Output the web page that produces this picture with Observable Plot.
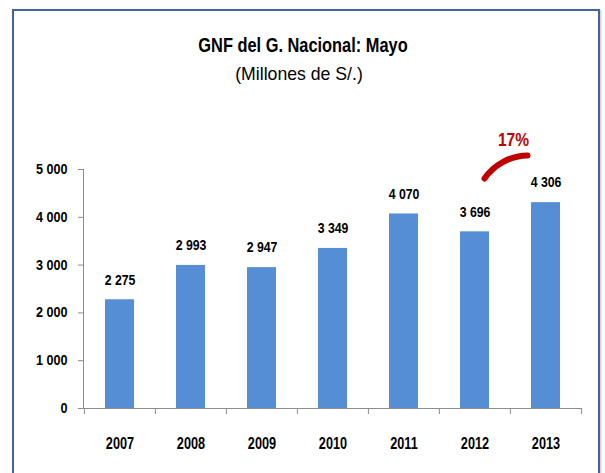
<!DOCTYPE html>
<html>
<head>
<meta charset="utf-8">
<script src="https://cdn.jsdelivr.net/npm/d3@7"></script>
<script src="https://cdn.jsdelivr.net/npm/@observablehq/plot@0.6"></script>
<style>
  html, body { margin: 0; padding: 0; background: #fff; }
  #wrap { position: relative; width: 605px; height: 473px; overflow: hidden;
          font-family: "Liberation Sans", Arial, sans-serif; }
  #frame { position: absolute; left: 12px; top: 9px; width: 588px; height: 480px;
           box-sizing: border-box; border: 2px solid #41659A;
           box-shadow: 1px 1px 2px rgba(0,0,0,0.25); }
  #title { position: absolute; left: 0; top: 0; width: 605px; height: 120px; }
  #t1 { position: absolute; left: 3px; width: 600px; top: 32.5px; text-align: center;
        font-weight: bold; font-size: 21px; line-height: normal; color: #000; transform: scaleX(0.78); }
  #t2 { position: absolute; left: 0; width: 598px; top: 63px; text-align: center;
        font-size: 18.6px; line-height: normal; color: #000; transform: scaleX(0.95); }
  #chart { position: absolute; left: 0; top: 120px; }
</style>
</head>
<body>
<div id="wrap">
  <div id="frame"></div>
  <div id="title"><div id="t1">GNF del G. Nacional: Mayo</div><div id="t2">(Millones de S/.)</div></div>
  <div id="chart"></div>
</div>
<script>
const years = ["2007", "2008", "2009", "2010", "2011", "2012", "2013"];
const values = [2275, 2993, 2947, 3349, 4070, 3696, 4306];
const yTicks = [0, 1000, 2000, 3000, 4000, 5000];
const growthLabel = "17%";
const growthLabelValue = 5627;
const arcStartYear = "2012";
const arcEndYear = "2013";
const arcStartValue = 4239;
const arcEndValue = 5232;

const data = years.map((year, i) => ({year, value: values[i]}));
const loc = d3.formatLocale({decimal: ",", thousands: "\u00a0", grouping: [3], currency: ["", ""]});
const fmt = loc.format(",d");

const axisColor = "#8C8C8C";
const font = '"Liberation Sans", Arial, sans-serif';
const band = 498.2 / 7;

const chart = Plot.plot({
  width: 605,
  height: 353,
  marginLeft: 83,
  marginRight: 24,
  marginTop: 49,
  marginBottom: 65,
  style: {fontFamily: font, overflow: "visible", background: "transparent"},
  x: {domain: years, padding: 0, axis: null, label: null},
  y: {domain: [0, 5000], axis: null, label: null},
  marks: [
    Plot.barY(data, {x: "year", y: "value", fill: "#558ED5", insetLeft: 21, insetRight: 21}),
    Plot.frame({anchor: "left", stroke: axisColor}),
    Plot.ruleY([0], {stroke: axisColor}),
    Plot.axisY({ticks: yTicks, tickSize: 5, tickPadding: 11, tickFormat: fmt, label: null,
                fontWeight: "bold", fontSize: 14, stroke: axisColor, fill: "#000", className: "sx90"}),
    Plot.axisX({tickSize: 6, tickFormat: () => "", label: null, dx: -band / 2, stroke: axisColor}),
    Plot.axisX({ticks: [years[years.length - 1]], tickSize: 6, tickFormat: () => "", label: null, dx: band / 2, stroke: axisColor}),
    Plot.axisX({tickSize: 0, tickPadding: 28.5, label: null, fontWeight: "bold", fontSize: 16.3, fill: "#000", className: "sx78"}),
    Plot.text(data, {x: "year", y: "value", text: d => fmt(d.value), lineAnchor: "middle", dy: -20,
                     fontWeight: "bold", fontSize: 15, fill: "#000", className: "sx82"}),
    Plot.arrow([{}], {x1: () => arcStartYear, y1: () => arcStartValue, x2: () => arcEndYear, y2: () => arcEndValue,
                      bend: 52.8, headLength: 0, insetStart: 29, insetEnd: 18.7,
                      stroke: "#C00000", strokeWidth: 6, strokeLinecap: "round"}),
    Plot.text([growthLabel], {x: () => arcEndYear, y: () => growthLabelValue, text: d => d, dx: -32.5,
                              lineAnchor: "middle", fontWeight: "bold", fontSize: 19, fill: "#C00000", className: "sx82"})
  ]
});
// condense text horizontally around each label's own anchor point
const squeeze = {sx90: 0.9, sx78: 0.78, sx82: 0.82};
for (const [cls, s] of Object.entries(squeeze)) {
  chart.querySelectorAll("." + cls + " text, text." + cls).forEach(t => {
    const tr = t.getAttribute("transform");
    if (tr) t.setAttribute("transform", tr + ` scale(${s},1)`);
  });
}
document.getElementById("chart").appendChild(chart);
</script>
</body>
</html>
